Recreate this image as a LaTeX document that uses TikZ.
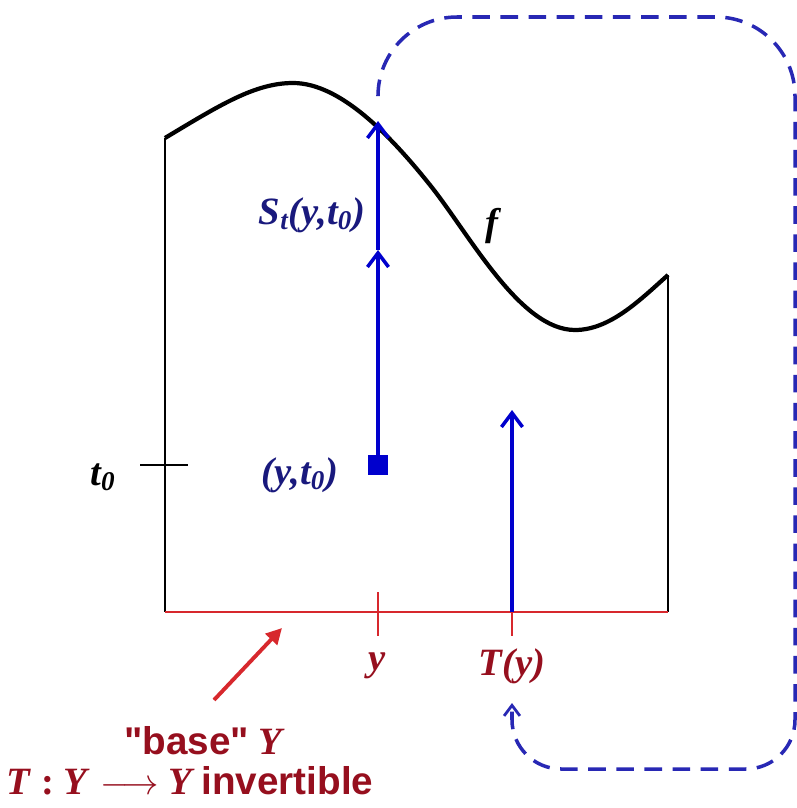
\documentclass[tikz,border=0pt]{standalone}
\usepackage{fontspec}
\setmainfont{Liberation Serif}
\newfontfamily\labsans{Liberation Sans}
\usetikzlibrary{arrows.meta,positioning}
\definecolor{navy}{RGB}{25,25,125}
\definecolor{arrblue}{RGB}{0,0,205}
\definecolor{loopblue}{RGB}{40,40,180}
\definecolor{basered}{RGB}{150,15,30}
\definecolor{linered}{RGB}{215,40,45}

\begin{document}
\begin{tikzpicture}[x=0.02cm, y=-0.02cm,
  lab/.style={font=\fontsize{22}{26}\selectfont\bfseries\itshape, inner sep=1pt},
  flow/.style={draw=arrblue, line width=2.3pt, -{Straight Barb[length=8pt,width=12pt,line width=2pt]}},
  loopline/.style={draw=loopblue, line width=2pt, dash pattern=on 10pt off 6pt, -{Straight Barb[length=6pt,width=9pt,line width=1.6pt]}},
  tickline/.style={draw=linered, line width=1.2pt}
]
\useasboundingbox (0,0) rectangle (796,808);

% frame of the region
\coordinate (tl) at (165,138);
\coordinate (bl) at (165,612);
\coordinate (br) at (668,612);
\coordinate (tr) at (668,275);
\draw[line width=1pt] (tl) -- (bl);
\draw[line width=1pt] (tr) -- (br);
\draw[linered, line width=1.3pt] (bl) -- (br);

% the graph of f
\draw[line width=2.4pt, line join=round] (tl) .. controls (220,105) and (255,83) .. (293,83)
  .. controls (340,83) and (390,135) .. (430,185)
  .. controls (470,235) and (520,330) .. (575,330)
  .. controls (610,330) and (640,300) .. (tr);
\node[lab] (f) at (492,226) {f};

% t0 level
\coordinate (t0a) at (140,465);
\coordinate (t0b) at (188,465);
\draw[line width=1pt] (t0a) -- (t0b);
\node[lab] (t0) at (103,477) {t\textsubscript{0}};

% flow from (y,t0)
\node[fill=arrblue, minimum size=11pt, inner sep=0pt] (sq) at (378,465) {};
\node[lab, text=navy] (yt0) at (300,475) {(y,t\textsubscript{0})};
\coordinate (mid) at (378,250);
\coordinate (top) at (378,121);
\draw[flow] (sq) -- (mid);
\draw[flow] (mid) -- (top);
\node[lab, text=navy] (St) at (312,215) {S\textsubscript{t}(y,t\textsubscript{0})};

% base points
\coordinate (ya) at (378,592);
\coordinate (yb) at (378,636);
\coordinate (Ta) at (512,612);
\coordinate (Tb) at (512,636);
\draw[tickline] (ya) -- (yb);
\draw[tickline] (Ta) -- (Tb);
\coordinate (Tup) at (512,410);
\draw[flow] (Ta) -- (Tup);
\node[lab, text=basered] (y) at (377,666) {y};
\node[lab, text=basered] (Ty) at (512,666) {T(y)};

% base space
\node[font=\fontsize{22}{26}\selectfont, text=basered, inner sep=1pt] (base) at (205,741) {{\labsans\bfseries "base"} \textbf{\textit{Y}}};
\node[font=\fontsize{22}{26}\selectfont, text=basered, inner sep=1pt] (inv) at (190,781) {\textbf{\textit{T}} \textbf{:} \textbf{\textit{Y}} \ensuremath{\longrightarrow} \textbf{\textit{Y}}\,{\labsans\bfseries invertible}};
\coordinate (basetail) at (214,700);
\coordinate (basept) at (282,628);
\draw[draw=linered, line width=2.2pt, -{Triangle[length=9pt,width=9pt]}] (basetail) -- (basept);

% the map T closes the loop
\coordinate (ls) at (378,95);
\draw[loopline] (ls) [rounded corners=45pt] -- (378,17) -- (795,17) [rounded corners=28pt] -- (795,769) -- (512,769) [sharp corners] -- (512,703);
\end{tikzpicture}
\end{document}
